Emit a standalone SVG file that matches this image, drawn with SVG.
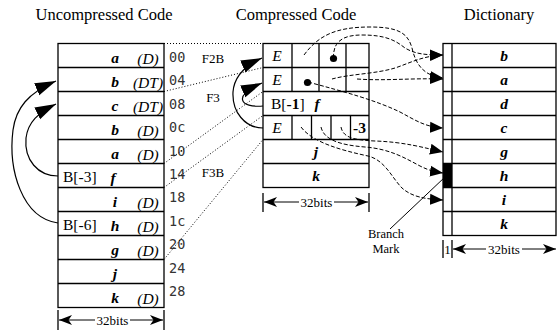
<svg xmlns="http://www.w3.org/2000/svg" width="557" height="331" viewBox="0 0 557 331">
  <style>
    .box { fill: #fff; stroke: #000; stroke-width: 1.3; }
    .ln { stroke: #000; stroke-width: 1.3; fill: none; }
    .t { font-family: "Liberation Serif", "Times New Roman", serif; fill: #000; }
    .title { font-size: 16.5px; text-anchor: middle; }
    .bi { font-size: 15.5px; font-weight: bold; font-style: italic; text-anchor: middle; }
    .tag { font-size: 15.5px; font-style: italic; text-anchor: middle; }
    .rg { font-size: 15.5px; }
    .lbl { font-size: 13px; text-anchor: middle; }
    .addr { font-family: "DejaVu Sans Mono", "Liberation Mono", monospace; font-size: 13.5px; fill: #333; }
    .dot { stroke: #000; stroke-width: 1; stroke-dasharray: 1 2; fill: none; }
    .dash { stroke: #000; stroke-width: 1; stroke-dasharray: 4 2; fill: none; marker-end: url(#tri); }
    .br { stroke: #000; stroke-width: 1.2; fill: none; marker-end: url(#big); }
    .dim { stroke: #000; stroke-width: 1; fill: none; marker-end: url(#stealth); }
  </style>
  <defs>
    <marker id="tri" viewBox="0 -6 13 12" refX="13" refY="0" markerWidth="13" markerHeight="12" markerUnits="userSpaceOnUse" orient="auto">
      <path d="M0,-5.5 L13,0 L0,5.5 z" fill="#000"/>
    </marker>
    <marker id="big" viewBox="0 -7 21 14" refX="21" refY="0" markerWidth="21" markerHeight="14" markerUnits="userSpaceOnUse" orient="auto">
      <path d="M0,-6.5 L21,0 L0,6.5 z" fill="#000"/>
    </marker>
    <marker id="stealth" viewBox="0 -5 13 10" refX="13" refY="0" markerWidth="13" markerHeight="10" markerUnits="userSpaceOnUse" orient="auto">
      <path d="M0,-5 L13,0 L0,5 L3.5,0 z" fill="#000"/>
    </marker>
    <pattern id="hatch" width="4" height="4" patternUnits="userSpaceOnUse" patternTransform="rotate(45)">
      <line x1="0" y1="0" x2="0" y2="4" stroke="#000" stroke-width="1"/>
    </pattern>
  </defs>

  <!-- column headings -->
  <text class="t title" x="104" y="20">Uncompressed Code</text>
  <text class="t title" x="296" y="20">Compressed Code</text>
  <text class="t title" x="499" y="20">Dictionary</text>

  <!-- uncompressed code: 11 words -->
  <g id="uncompressed">
    <rect class="box" x="58" y="43.5" width="106" height="264"/>
    <path class="ln" d="M58,67.5H164M58,91.5H164M58,115.5H164M58,139.5H164M58,163.5H164M58,187.5H164M58,211.5H164M58,235.5H164M58,259.5H164M58,283.5H164"/>
    <text class="t bi" x="115" y="62.5">a</text><text class="t tag" x="148" y="63.5">(D)</text>
    <text class="t bi" x="115" y="86.5">b</text><text class="t tag" x="148" y="87.5">(DT)</text>
    <text class="t bi" x="115" y="110.5">c</text><text class="t tag" x="148" y="111.5">(DT)</text>
    <text class="t bi" x="115" y="134.5">b</text><text class="t tag" x="148" y="135.5">(D)</text>
    <text class="t bi" x="115" y="158.5">a</text><text class="t tag" x="148" y="159.5">(D)</text>
    <text class="t rg" x="63" y="182">B[-3]</text><text class="t bi" x="113" y="182.5">f</text>
    <text class="t bi" x="115" y="206.5">i</text><text class="t tag" x="148" y="207.5">(D)</text>
    <text class="t rg" x="63" y="230">B[-6]</text><text class="t bi" x="115" y="230.5">h</text><text class="t tag" x="148" y="231.5">(D)</text>
    <text class="t bi" x="115" y="254.5">g</text><text class="t tag" x="148" y="255.5">(D)</text>
    <text class="t bi" x="115" y="278.5">j</text>
    <text class="t bi" x="115" y="302.5">k</text><text class="t tag" x="148" y="303.5">(D)</text>
  </g>

  <!-- word addresses -->
  <g id="addresses">
    <text class="addr" x="169" y="62">00</text>
    <text class="addr" x="169" y="85.4">04</text>
    <text class="addr" x="169" y="108.8">08</text>
    <text class="addr" x="169" y="132.2">0c</text>
    <text class="addr" x="169" y="155.6">10</text>
    <text class="addr" x="169" y="179">14</text>
    <text class="addr" x="169" y="202.4">18</text>
    <text class="addr" x="169" y="225.8">1c</text>
    <text class="addr" x="169" y="249.2">20</text>
    <text class="addr" x="169" y="272.6">24</text>
    <text class="addr" x="169" y="296">28</text>
  </g>

  <!-- width of an uncompressed word -->
  <g id="uncompressed-width">
    <path class="ln" d="M58,310V330M164,310V330" stroke-width="1"/>
    <line class="dim" x1="95" y1="320" x2="59" y2="320"/>
    <line class="dim" x1="130" y1="320" x2="163" y2="320"/>
    <text class="t lbl" x="112.5" y="324.5">32bits</text>
  </g>

  <!-- compressed code: 6 words -->
  <g id="compressed">
    <rect x="346" y="43.5" width="23" height="24" fill="url(#hatch)"/>
    <rect class="box" x="263" y="43.5" width="106" height="144" fill="none"/>
    <path class="ln" d="M263,67.5H369M263,91.5H369M263,115.5H369M263,139.5H369M263,163.5H369"/>
    <path class="ln" d="M292,43.5V91.5M319,43.5V91.5M346,43.5V91.5"/>
    <path class="ln" d="M292,115.5V139.5M311.5,115.5V139.5M331,115.5V139.5M350.5,115.5V139.5"/>
    <text class="t tag" x="277" y="61">E</text>
    <text class="t tag" x="277" y="85">E</text>
    <text class="t rg" x="271" y="109">B[<tspan font-weight="bold">-1</tspan>]</text>
    <text class="t bi" x="317" y="109">f</text>
    <text class="t tag" x="277" y="133">E</text>
    <text class="t rg" x="359.5" y="133" font-weight="bold" text-anchor="middle">-3</text>
    <text class="t bi" x="316" y="157">j</text>
    <text class="t bi" x="316" y="181">k</text>
    <circle cx="333.5" cy="58.5" r="3.6" fill="#000"/>
    <circle cx="307.5" cy="82.5" r="3.6" fill="#000"/>
  </g>

  <!-- instruction format labels -->
  <g id="formats">
    <text class="t lbl" x="213" y="63">F2B</text>
    <text class="t lbl" x="213" y="102">F3</text>
    <text class="t lbl" x="213" y="177">F3B</text>
  </g>

  <!-- width of a compressed word -->
  <g id="compressed-width">
    <path class="ln" d="M263,193V212M369,193V212" stroke-width="1"/>
    <line class="dim" x1="299" y1="202" x2="264" y2="202"/>
    <line class="dim" x1="334" y1="202" x2="368" y2="202"/>
    <text class="t lbl" x="316.5" y="206.5">32bits</text>
  </g>

  <!-- dictionary: 8 entries with branch-mark column -->
  <g id="dictionary">
    <rect class="box" x="443" y="43.5" width="113" height="192"/>
    <rect x="443" y="163.5" width="9" height="24" fill="#000"/>
    <path class="ln" d="M452,43.5V235.5"/>
    <path class="ln" d="M443,67.5H556M443,91.5H556M443,115.5H556M443,139.5H556M443,163.5H556M443,187.5H556M443,211.5H556"/>
    <text class="t bi" x="504" y="61">b</text>
    <text class="t bi" x="504" y="85">a</text>
    <text class="t bi" x="504" y="109">d</text>
    <text class="t bi" x="504" y="133">c</text>
    <text class="t bi" x="504" y="157">g</text>
    <text class="t bi" x="504" y="181">h</text>
    <text class="t bi" x="504" y="205">i</text>
    <text class="t bi" x="504" y="229">k</text>
  </g>

  <!-- dictionary widths -->
  <g id="dictionary-width">
    <path class="ln" d="M443,240V258M452,240V258" stroke-width="1"/>
    <text class="t lbl" x="447.5" y="254">1</text>
    <line class="dim" x1="486" y1="249" x2="453" y2="249"/>
    <line class="dim" x1="522" y1="249" x2="556" y2="249"/>
    <text class="t lbl" x="504" y="253.5">32bits</text>
  </g>

  <!-- branch mark callout -->
  <g id="branch-mark">
    <line x1="390" y1="229" x2="445" y2="177" stroke="#000" stroke-width="1"/>
    <text class="t" x="386" y="238" font-size="12.5" text-anchor="middle">Branch</text>
    <text class="t" x="386" y="252.5" font-size="12.5" text-anchor="middle">Mark</text>
  </g>

  <g id="connectors">
    <!-- address correspondence -->
    <line class="dot" x1="164" y1="43.5" x2="263" y2="43.5"/>
    <line class="dot" x1="164" y1="91.5" x2="263" y2="67.5"/>
    <line class="dot" x1="164" y1="163.5" x2="263" y2="91.5"/>
    <line class="dot" x1="164" y1="187.5" x2="263" y2="115.5"/>
    <line class="dot" x1="164" y1="259.5" x2="263" y2="139.5"/>

    <!-- branch targets -->
    <path class="br" d="M58,223 C22,218 8,170 13,130 C16,108 28,93 56,81"/>
    <path class="br" d="M58,176 C38,176 24,160 26,138 C28,122 38,113 56,104"/>
    <path class="br" d="M263,128 C245,128 232,112 233,92 C234,78 244,66 262,58"/>
    <path class="br" d="M263,106 C240,108 232,96 262,83"/>

    <!-- dictionary indices -->
    <path class="dash" d="M304,55 C318,36 335,27 370,27 C400,27 408,34 412,48 C416,66 425,76 443,78"/>
    <path class="dash" d="M333.5,58 C333,42 342,35 362,35 C385,35 395,40 405,48 C415,54 425,55 443,55"/>
    <path class="dash" d="M332,79 C350,74 375,74 395,68 C410,63 422,56 443,55"/>
    <path class="dash" d="M357,79 C385,81 410,78 443,79"/>
    <path class="dash" d="M308,82 C345,92 375,100 400,112 C415,120 425,127 443,128"/>
    <path class="dash" d="M341,127 C343,137 352,140 375,141 C405,142 425,148 443,152"/>
    <path class="dash" d="M321,127 C324,140 340,145 365,147 C390,149 405,158 420,166 C430,171 436,172 443,173"/>
    <path class="dash" d="M301,127 C312,142 340,150 368,156 C385,160 392,178 402,188 C412,197 425,199 443,200"/>
  </g>
</svg>
